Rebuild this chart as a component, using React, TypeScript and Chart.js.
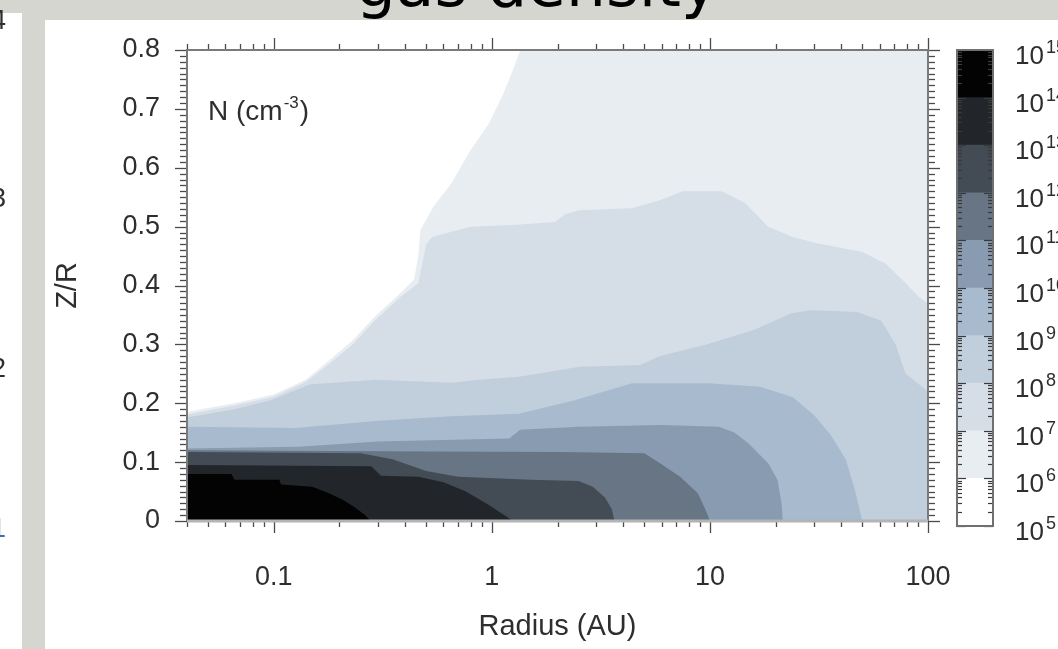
import React, { useEffect, useRef } from 'react';
import { Chart, registerables } from 'chart.js';

Chart.register(...registerables);

// ---- data: upper edge (Z/R) of the region where N >= 10^k cm^-3, versus radius (AU)
const c14Radius = [0.04, 0.064, 0.066, 0.106, 0.108, 0.15, 0.177, 0.207, 0.233, 0.262, 0.278];
const c14Height = [0.08, 0.08, 0.07, 0.07, 0.062, 0.058, 0.048, 0.036, 0.024, 0.01, 0];
const c13Radius = [0.04, 0.28, 0.31, 0.46, 0.6, 0.76, 0.96, 1.12, 1.25];
const c13Height = [0.095, 0.093, 0.077, 0.075, 0.066, 0.05, 0.028, 0.012, 0];
const c12Radius = [0.04, 0.25, 0.35, 0.5, 0.7, 1.5, 2.5, 2.9, 3.3, 3.55, 3.65];
const c12Height = [0.117, 0.115, 0.105, 0.085, 0.075, 0.07, 0.068, 0.058, 0.04, 0.02, 0];
const c11Radius = [0.04, 0.5, 2, 5, 5.9, 7.3, 8.8, 9.7, 10];
const c11Height = [0.12, 0.118, 0.117, 0.115, 0.098, 0.075, 0.047, 0.013, 0];
const c10Radius = [0.04, 0.13, 0.3, 1.2, 1.35, 2.5, 6, 11, 13, 15, 18.5, 20.4, 21.3, 21.6];
const c10Height = [0.123, 0.126, 0.135, 0.14, 0.155, 0.16, 0.163, 0.16, 0.15, 0.132, 0.098, 0.07, 0.03, 0];
const c9Radius = [0.04, 0.126, 0.294, 0.65, 1.33, 2.4, 4.4, 9.7, 17, 24, 30, 36, 42, 46, 50];
const c9Height = [0.16, 0.158, 0.17, 0.178, 0.182, 0.205, 0.234, 0.234, 0.228, 0.21, 0.18, 0.145, 0.104, 0.055, 0];
const c8Radius = [0.04, 0.066, 0.097, 0.146, 0.294, 0.653, 0.88, 1.33, 2.53, 4.8, 5.86, 9.65, 16, 23.7, 29, 47.5, 61, 71, 79, 100];
const c8Height = [0.176, 0.19, 0.205, 0.232, 0.24, 0.235, 0.24, 0.245, 0.262, 0.265, 0.28, 0.3, 0.325, 0.353, 0.358, 0.355, 0.34, 0.3, 0.25, 0.22];
const c7Radius = [0.04, 0.066, 0.1, 0.14, 0.18, 0.23, 0.29, 0.38, 0.46, 0.5, 0.535, 0.8, 1.3, 1.95, 2.15, 2.5, 4.4, 5.9, 7.5, 11.3, 14.5, 18.5, 23.8, 30.5, 50, 64, 79, 91, 100];
const c7Height = [0.181, 0.196, 0.211, 0.236, 0.267, 0.3, 0.34, 0.38, 0.404, 0.47, 0.483, 0.5, 0.503, 0.508, 0.52, 0.528, 0.531, 0.545, 0.56, 0.56, 0.54, 0.5, 0.483, 0.472, 0.457, 0.437, 0.404, 0.38, 0.37];
const c6Radius = [0.04, 0.05, 0.066, 0.1, 0.14, 0.18, 0.23, 0.29, 0.38, 0.44, 0.46, 0.47, 0.54, 0.65, 0.8, 0.97, 1.13, 1.25, 1.35, 100];
const c6Height = [0.185, 0.192, 0.2, 0.215, 0.24, 0.273, 0.307, 0.347, 0.387, 0.41, 0.45, 0.494, 0.534, 0.573, 0.63, 0.675, 0.726, 0.766, 0.8, 0.8];

// colour-bar levels (exponents of 10) and tick labels
const levelExponents = [5, 6, 7, 8, 9, 10, 11, 12, 13, 14, 15];
const xTickLabels = [0.1, 1, 10, 100];
const yTickLabels = [0, 0.1, 0.2, 0.3, 0.4, 0.5, 0.6, 0.7, 0.8];

// ---- styles
const bandColors = ['#ffffff', '#e8edf2', '#d5dde7', '#c1cedc', '#a7bace', '#889bb0', '#677585', '#434b55', '#222529', '#030303'];
const FONT = '"Liberation Sans", Arial, Helvetica, sans-serif';
const TEXT = '#2e2e2e';

const contours = [
  { r: c14Radius, z: c14Height, k: 14 },
  { r: c13Radius, z: c13Height, k: 13 },
  { r: c12Radius, z: c12Height, k: 12 },
  { r: c11Radius, z: c11Height, k: 11 },
  { r: c10Radius, z: c10Height, k: 10 },
  { r: c9Radius, z: c9Height, k: 9 },
  { r: c8Radius, z: c8Height, k: 8 },
  { r: c7Radius, z: c7Height, k: 7 },
  { r: c6Radius, z: c6Height, k: 6 },
];

const framePlugin = {
  id: 'frame',
  afterDraw(chart: any) {
    const { ctx, chartArea: a, scales } = chart;
    const xs = scales.x;
    const ys = scales.y;
    ctx.save();
    const seg = (x1: number, y1: number, x2: number, y2: number) => {
      ctx.beginPath();
      ctx.moveTo(x1, y1);
      ctx.lineTo(x2, y2);
      ctx.stroke();
    };
    // tick marks (outside, on all four sides)
    ctx.strokeStyle = '#4a4a4a';
    ctx.lineWidth = 1.3;
    for (let e = -2; e <= 2; e++) {
      for (let k = 1; k <= 9; k++) {
        const v = k * Math.pow(10, e);
        if (v < 0.0399 || v > 100.01) continue;
        const px = Math.round(xs.getPixelForValue(v)) + 0.5;
        const len = k === 1 ? 12 : 6;
        seg(px, a.bottom, px, a.bottom + len);
        seg(px, a.top, px, a.top - len);
      }
    }
    for (let i = 0; i <= 80; i++) {
      const py = Math.round(ys.getPixelForValue(i / 100)) + 0.5;
      const len = i % 10 === 0 ? 12 : 7;
      seg(a.left - len, py, a.left, py);
      seg(a.right, py, a.right + len, py);
    }
    // frame
    ctx.strokeStyle = '#7a7a7a';
    ctx.lineWidth = 2;
    seg(a.left - 1, a.top, a.right + 1, a.top);
    seg(a.left, a.top, a.left, a.bottom);
    seg(a.right, a.top, a.right, a.bottom);
    ctx.strokeStyle = '#b4b4b4';
    ctx.lineWidth = 3;
    seg(a.left, a.bottom, a.right, a.bottom);

    // annotation N (cm^-3)
    ctx.fillStyle = TEXT;
    ctx.textAlign = 'left';
    ctx.textBaseline = 'alphabetic';
    ctx.font = `28px ${FONT}`;
    let x = a.left + 21;
    const base = 120;
    ctx.fillText('N (cm', x, base);
    x += ctx.measureText('N (cm').width + 1;
    ctx.font = `17px ${FONT}`;
    ctx.fillText('-3', x, base - 12);
    x += ctx.measureText('-3').width + 1;
    ctx.font = `28px ${FONT}`;
    ctx.fillText(')', x, base);

    // slide title (cut off at the top of the page)
    ctx.fillStyle = '#000000';
    ctx.textAlign = 'center';
    ctx.font = '63px "DejaVu Sans", sans-serif';
    ctx.fillText('gas density', 537, 6);

    // fragments of the neighbouring figure's tick labels on the far left
    ctx.textAlign = 'right';
    ctx.textBaseline = 'middle';
    ctx.font = `27px ${FONT}`;
    ctx.fillStyle = TEXT;
    ctx.fillText('4', 6, 22);
    ctx.fillText('3', 6, 200);
    ctx.fillText('2', 6, 370);
    ctx.fillStyle = '#3d6fae';
    ctx.fillText('1', 6, 530);
    ctx.restore();
  },
};

const colorbarPlugin = {
  id: 'colorbarDecor',
  afterDraw(chart: any) {
    const { ctx, chartArea: a, scales } = chart;
    const ys = scales.y;
    ctx.save();
    const seg = (x1: number, y1: number, x2: number, y2: number) => {
      ctx.beginPath();
      ctx.moveTo(x1, y1);
      ctx.lineTo(x2, y2);
      ctx.stroke();
    };
    ctx.strokeStyle = '#3a3a3a';
    ctx.lineWidth = 1.2;
    for (let e = levelExponents[0]; e < levelExponents[levelExponents.length - 1]; e++) {
      for (let k = 2; k <= 9; k++) {
        const py = Math.round(ys.getPixelForValue(k * Math.pow(10, e))) + 0.5;
        seg(a.left, py, a.left + 5, py);
        seg(a.right - 5, py, a.right, py);
      }
    }
    for (const e of levelExponents) {
      const py = Math.round(ys.getPixelForValue(Math.pow(10, e))) + 0.5;
      seg(a.left, py, a.left + 9, py);
      seg(a.right - 9, py, a.right, py);
    }
    ctx.strokeStyle = '#707070';
    ctx.lineWidth = 2;
    ctx.strokeRect(a.left, a.top, a.right - a.left, a.bottom - a.top);

    ctx.fillStyle = TEXT;
    ctx.textAlign = 'left';
    ctx.textBaseline = 'alphabetic';
    for (const e of levelExponents) {
      const py = ys.getPixelForValue(Math.pow(10, e));
      const x = a.right + 22;
      ctx.font = `26px ${FONT}`;
      ctx.fillText('10', x, py + 14);
      const w = ctx.measureText('10').width;
      ctx.font = `18px ${FONT}`;
      ctx.fillText(String(e), x + w + 2, py + 3);
    }
    ctx.restore();
  },
};

export default function App() {
  const mainRef = useRef<HTMLCanvasElement>(null);
  const barRef = useRef<HTMLCanvasElement>(null);

  useEffect(() => {
    if (!mainRef.current || !barRef.current) return;

    const datasets = contours.map((c) => {
      const color = bandColors[c.k - 5];
      return {
        data: c.r.map((r, i) => ({ x: r, y: c.z[i] })),
        backgroundColor: color,
        borderColor: color,
        borderWidth: 0,
        pointRadius: 0,
        tension: 0,
        fill: 'origin',
      };
    });

    const main = new Chart(mainRef.current, {
      type: 'line',
      data: { datasets: datasets as any },
      options: {
        responsive: false,
        animation: false,
        devicePixelRatio: 1,
        events: [],
        layout: { padding: { left: 0, top: 50, right: 130, bottom: 0 } },
        plugins: { legend: { display: false }, tooltip: { enabled: false } },
        scales: {
          x: {
            type: 'logarithmic',
            min: 0.04,
            max: 100,
            afterFit: (s: any) => {
              s.height = 128;
            },
            grid: { display: false, drawTicks: false },
            border: { display: false },
            ticks: {
              autoSkip: false,
              maxRotation: 0,
              padding: 40,
              color: TEXT,
              font: { family: FONT, size: 27 },
              callback: (v: any) => {
                const n = Number(v);
                const hit = xTickLabels.find((t) => Math.abs(t - n) / t < 1e-6);
                return hit === undefined ? '' : String(hit);
              },
            },
            title: {
              display: true,
              text: 'Radius (AU)',
              color: TEXT,
              font: { family: FONT, size: 29 },
              padding: { top: 0, bottom: 5 },
            },
          },
          y: {
            type: 'linear',
            min: 0,
            max: 0.8,
            afterFit: (s: any) => {
              s.width = 187;
            },
            grid: { display: false, drawTicks: false },
            border: { display: false },
            afterBuildTicks: (s: any) => {
              s.ticks = yTickLabels.map((v) => ({ value: v }));
            },
            ticks: {
              padding: 27,
              color: TEXT,
              font: { family: FONT, size: 27 },
              callback: (v: any) => {
                const n = Math.round(Number(v) * 10) / 10;
                return n === 0 ? '0' : n.toFixed(1);
              },
            },
            title: {
              display: true,
              text: 'Z/R',
              color: TEXT,
              font: { family: FONT, size: 29 },
              padding: { top: 51, bottom: 0 },
            },
          },
        },
      },
      plugins: [framePlugin],
    });

    const barSets = bandColors.map((color, i) => ({
      data: [[Math.pow(10, levelExponents[i]), Math.pow(10, levelExponents[i + 1])]],
      backgroundColor: color,
      borderWidth: 0,
      grouped: false,
      barPercentage: 1,
      categoryPercentage: 1,
    }));

    const bar = new Chart(barRef.current, {
      type: 'bar',
      data: { labels: ['N'], datasets: barSets as any },
      options: {
        responsive: false,
        animation: false,
        devicePixelRatio: 1,
        events: [],
        layout: { padding: { left: 27, right: 65, top: 50, bottom: 123 } },
        plugins: { legend: { display: false }, tooltip: { enabled: false } },
        scales: {
          x: { display: false },
          y: { type: 'logarithmic', min: 1e5, max: 1e15, display: false },
        },
      },
      plugins: [colorbarPlugin],
    });

    return () => {
      main.destroy();
      bar.destroy();
    };
  }, []);

  return (
    <div
      style={{
        position: 'absolute',
        left: 0,
        top: 0,
        width: 1058,
        height: 649,
        overflow: 'hidden',
        background: '#d6d6d1',
      }}
    >
      <div style={{ position: 'absolute', left: 0, top: 13, width: 22, height: 636, background: '#ffffff' }} />
      <div style={{ position: 'absolute', left: 45, top: 20, width: 1013, height: 629, background: '#ffffff' }} />
      <canvas ref={mainRef} width={1058} height={649} style={{ position: 'absolute', left: 0, top: 0 }} />
      <canvas ref={barRef} width={128} height={649} style={{ position: 'absolute', left: 930, top: 0 }} />
    </div>
  );
}
